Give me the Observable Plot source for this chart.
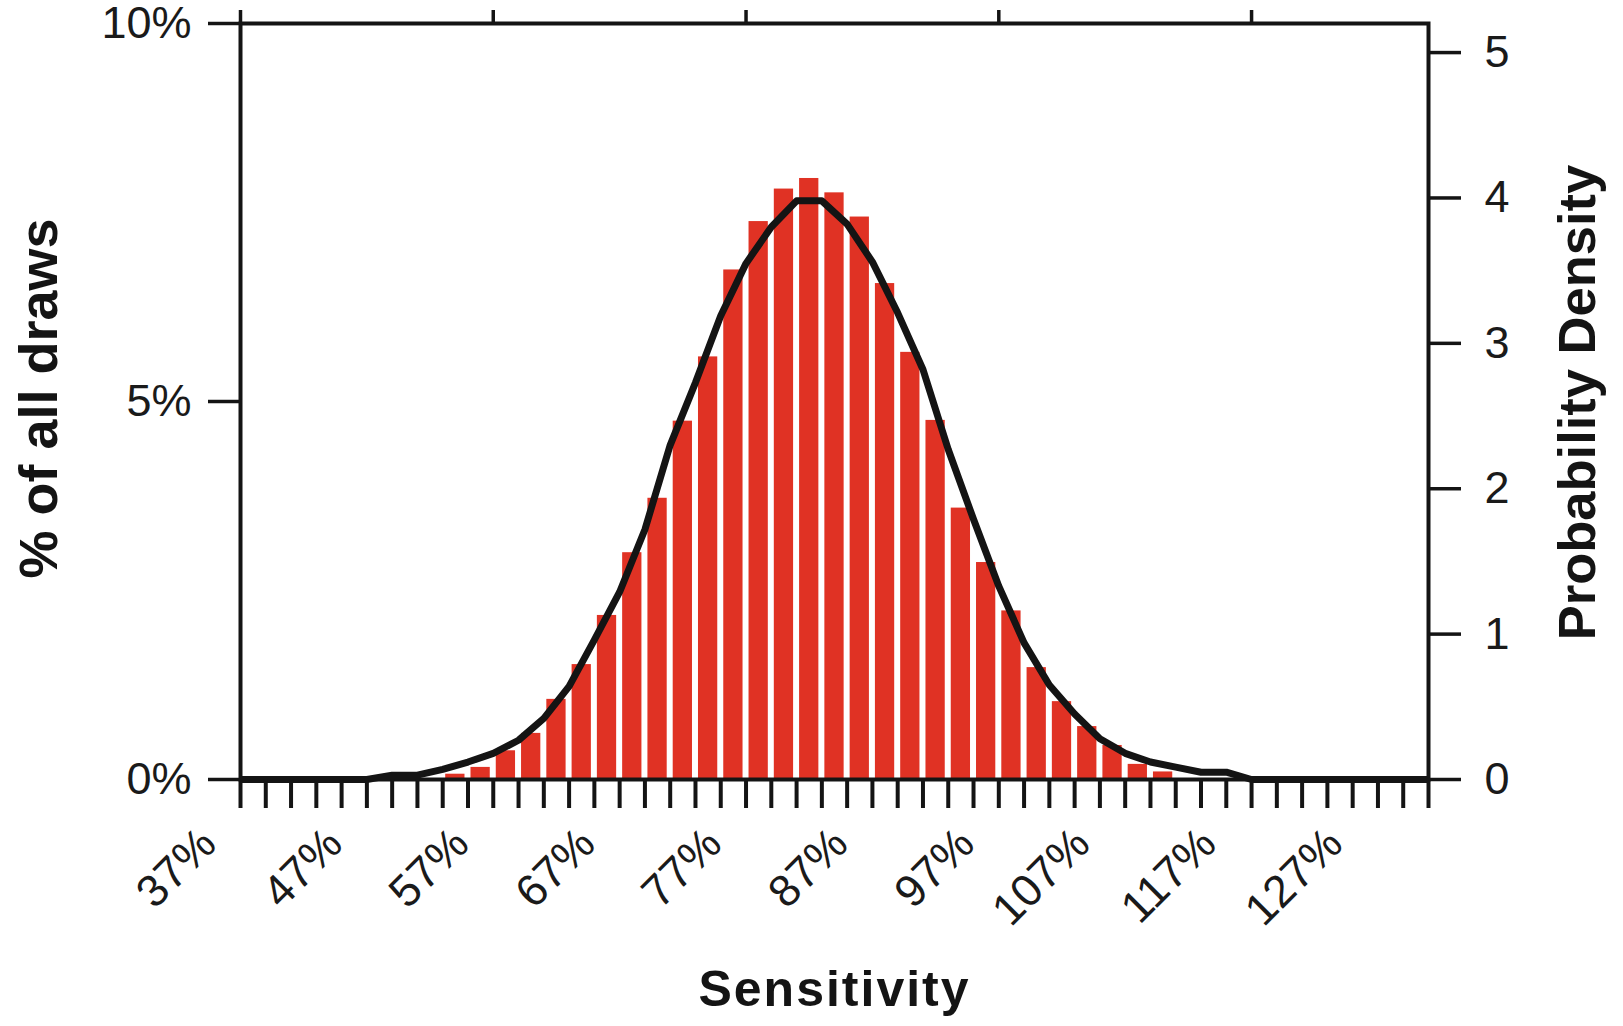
<!DOCTYPE html>
<html>
<head>
<meta charset="utf-8">
<script src="https://cdn.jsdelivr.net/npm/d3@7"></script>
<script src="https://cdn.jsdelivr.net/npm/@observablehq/plot@0.6"></script>
<style>
  html, body { margin: 0; padding: 0; background: #ffffff; }
  #chart svg { display: block; overflow: visible; }
</style>
</head>
<body>
<div id="chart"></div>
<script>
// ---- data ----
// histogram bins: lower edge of each 2%-wide sensitivity bin
const binLow = [37,39,41,43,45,47,49,51,53,55,57,59,61,63,65,67,69,71,73,75,77,79,81,83,85,87,89,91,93,95,97,99,101,103,105,107,109,111,113,115,117,119,121,123,125,127,129];
const binWidth = 2;
// % of all draws falling in each bin
const pctDraws = [0,0,0,0,0,0,0,0,0.07,0.16,0.38,0.61,1.06,1.52,2.17,3.00,3.72,4.74,5.59,6.74,7.38,7.81,7.95,7.76,7.44,6.56,5.65,4.75,3.59,2.87,2.23,1.48,1.03,0.70,0.45,0.20,0.10,0,0,0,0,0,0,0,0,0,0];
// probability density curve, evaluated at the bin edges
const densityX = [37,39,41,43,45,47,49,51,53,55,57,59,61,63,65,67,69,71,73,75,77,79,81,83,85,87,89,91,93,95,97,99,101,103,105,107,109,111,113,115,117,119,121,123,125,127,129,131];
const densityY = [0,0,0,0,0,0,0.03,0.03,0.07,0.12,0.18,0.27,0.42,0.64,0.96,1.29,1.72,2.30,2.73,3.19,3.55,3.80,3.98,3.98,3.82,3.56,3.21,2.82,2.27,1.79,1.33,0.94,0.65,0.45,0.28,0.18,0.12,0.085,0.05,0.05,0,0,0,0,0,0,0,0];
// axes
const xDomain = [37, 131];
const xTickValues = densityX;                 // minor ticks at every bin edge
const xTopTicks = [37, 57, 77, 97, 117];
const xLabelValues = [37, 47, 57, 67, 77, 87, 97, 107, 117, 127];
const xLabelText = ["37%", "47%", "57%", "67%", "77%", "87%", "97%", "107%", "117%", "127%"];
const yLeftDomain = [0, 10];
const yLeftTicks = [0, 5, 10];
const yLeftTickText = ["0%", "5%", "10%"];
const yRightMax = 5.2;
const yRightTicks = [0, 1, 2, 3, 4, 5];
const xTitle = "Sensitivity";
const yLeftTitle = "% of all draws";
const yRightTitle = "Probability Density";

// ---- tables for the library ----
const k = yLeftDomain[1] / yRightMax; // density -> left-axis units
const bars = binLow.map((lo, i) => ({lo, hi: lo + binWidth, pct: pctDraws[i]})).filter(d => d.pct > 0);
const curve = densityX.map((x, i) => ({x, dens: densityY[i]}));
const labels = xLabelValues.map((v, i) => ({v, t: xLabelText[i]}));
const labelsShort = labels.filter(d => d.t.length <= 3);
const labelsLong = labels.filter(d => d.t.length > 3);

const ink = "#141414";
const tickInk = "#1a1a1a";
const font = "'Liberation Sans', Arial, Helvetica, sans-serif";
const tickFont = 45;

const chart = Plot.plot({
  width: 1623,
  height: 1026,
  marginLeft: 240,
  marginRight: 195,
  marginTop: 23,
  marginBottom: 247,
  style: {fontFamily: font, background: "#ffffff", color: ink, overflow: "visible"},
  x: {domain: xDomain},
  y: {domain: yLeftDomain},
  marks: [
    Plot.rectY(bars, {x1: "lo", x2: "hi", y: "pct", fill: "#e03224", insetLeft: 3, insetRight: 3}),
    Plot.line(curve, {x: "x", y: d => d.dens * k, stroke: ink, strokeWidth: 7, strokeLinejoin: "round", strokeLinecap: "butt"}),
    Plot.frame({stroke: ink, strokeWidth: 4}),
    Plot.axisY({anchor: "left", ticks: yLeftTicks, tickFormat: d => yLeftTickText[yLeftTicks.indexOf(d)],
      tickSize: 32, tickPadding: 17, strokeWidth: 3.5, fontSize: tickFont, fill: tickInk, label: null}),
    Plot.axisY({anchor: "right", ticks: yRightTicks.map(d => d * k), tickFormat: d => String(Math.round(d / k)),
      tickSize: 32, tickPadding: 24, strokeWidth: 3.5, fontSize: tickFont, fill: tickInk, label: null}),
    Plot.axisX({anchor: "bottom", ticks: xTickValues, tickFormat: () => "", tickSize: 29, strokeWidth: 4, label: null}),
    Plot.axisX({anchor: "top", ticks: xTopTicks, tickFormat: () => "", tickSize: 14, strokeWidth: 3.5, label: null}),
    Plot.text(labelsShort, {x: "v", text: "t", frameAnchor: "bottom", rotate: -45, textAnchor: "end", lineAnchor: "bottom",
      dx: -22, dy: 67, fontSize: tickFont, fill: tickInk}),
    Plot.text(labelsLong, {x: "v", text: "t", frameAnchor: "bottom", rotate: -45, textAnchor: "end", lineAnchor: "bottom",
      dx: -33, dy: 67, fontSize: tickFont, fill: tickInk}),
    Plot.text([xTitle], {frameAnchor: "bottom", text: d => d, textAnchor: "middle", lineAnchor: "bottom", dy: 226,
      fontSize: 50, fontWeight: "bold", fill: ink}),
    Plot.text([yLeftTitle], {frameAnchor: "left", text: d => d, rotate: -90, textAnchor: "middle", lineAnchor: "bottom",
      dx: -184, dy: -3, fontSize: 54, fontWeight: "bold", fill: ink}),
    Plot.text([yRightTitle], {frameAnchor: "right", text: d => d, rotate: -90, textAnchor: "middle", lineAnchor: "bottom",
      dx: 166, dy: 1, fontSize: 52.5, fontWeight: "bold", fill: ink})
  ]
});

document.getElementById("chart").appendChild(chart);
// spread the letters of the x title like the reference
d3.select(chart).selectAll("text").filter(function() { return this.textContent === xTitle; })
  .style("letter-spacing", "2px");
</script>
</body>
</html>
